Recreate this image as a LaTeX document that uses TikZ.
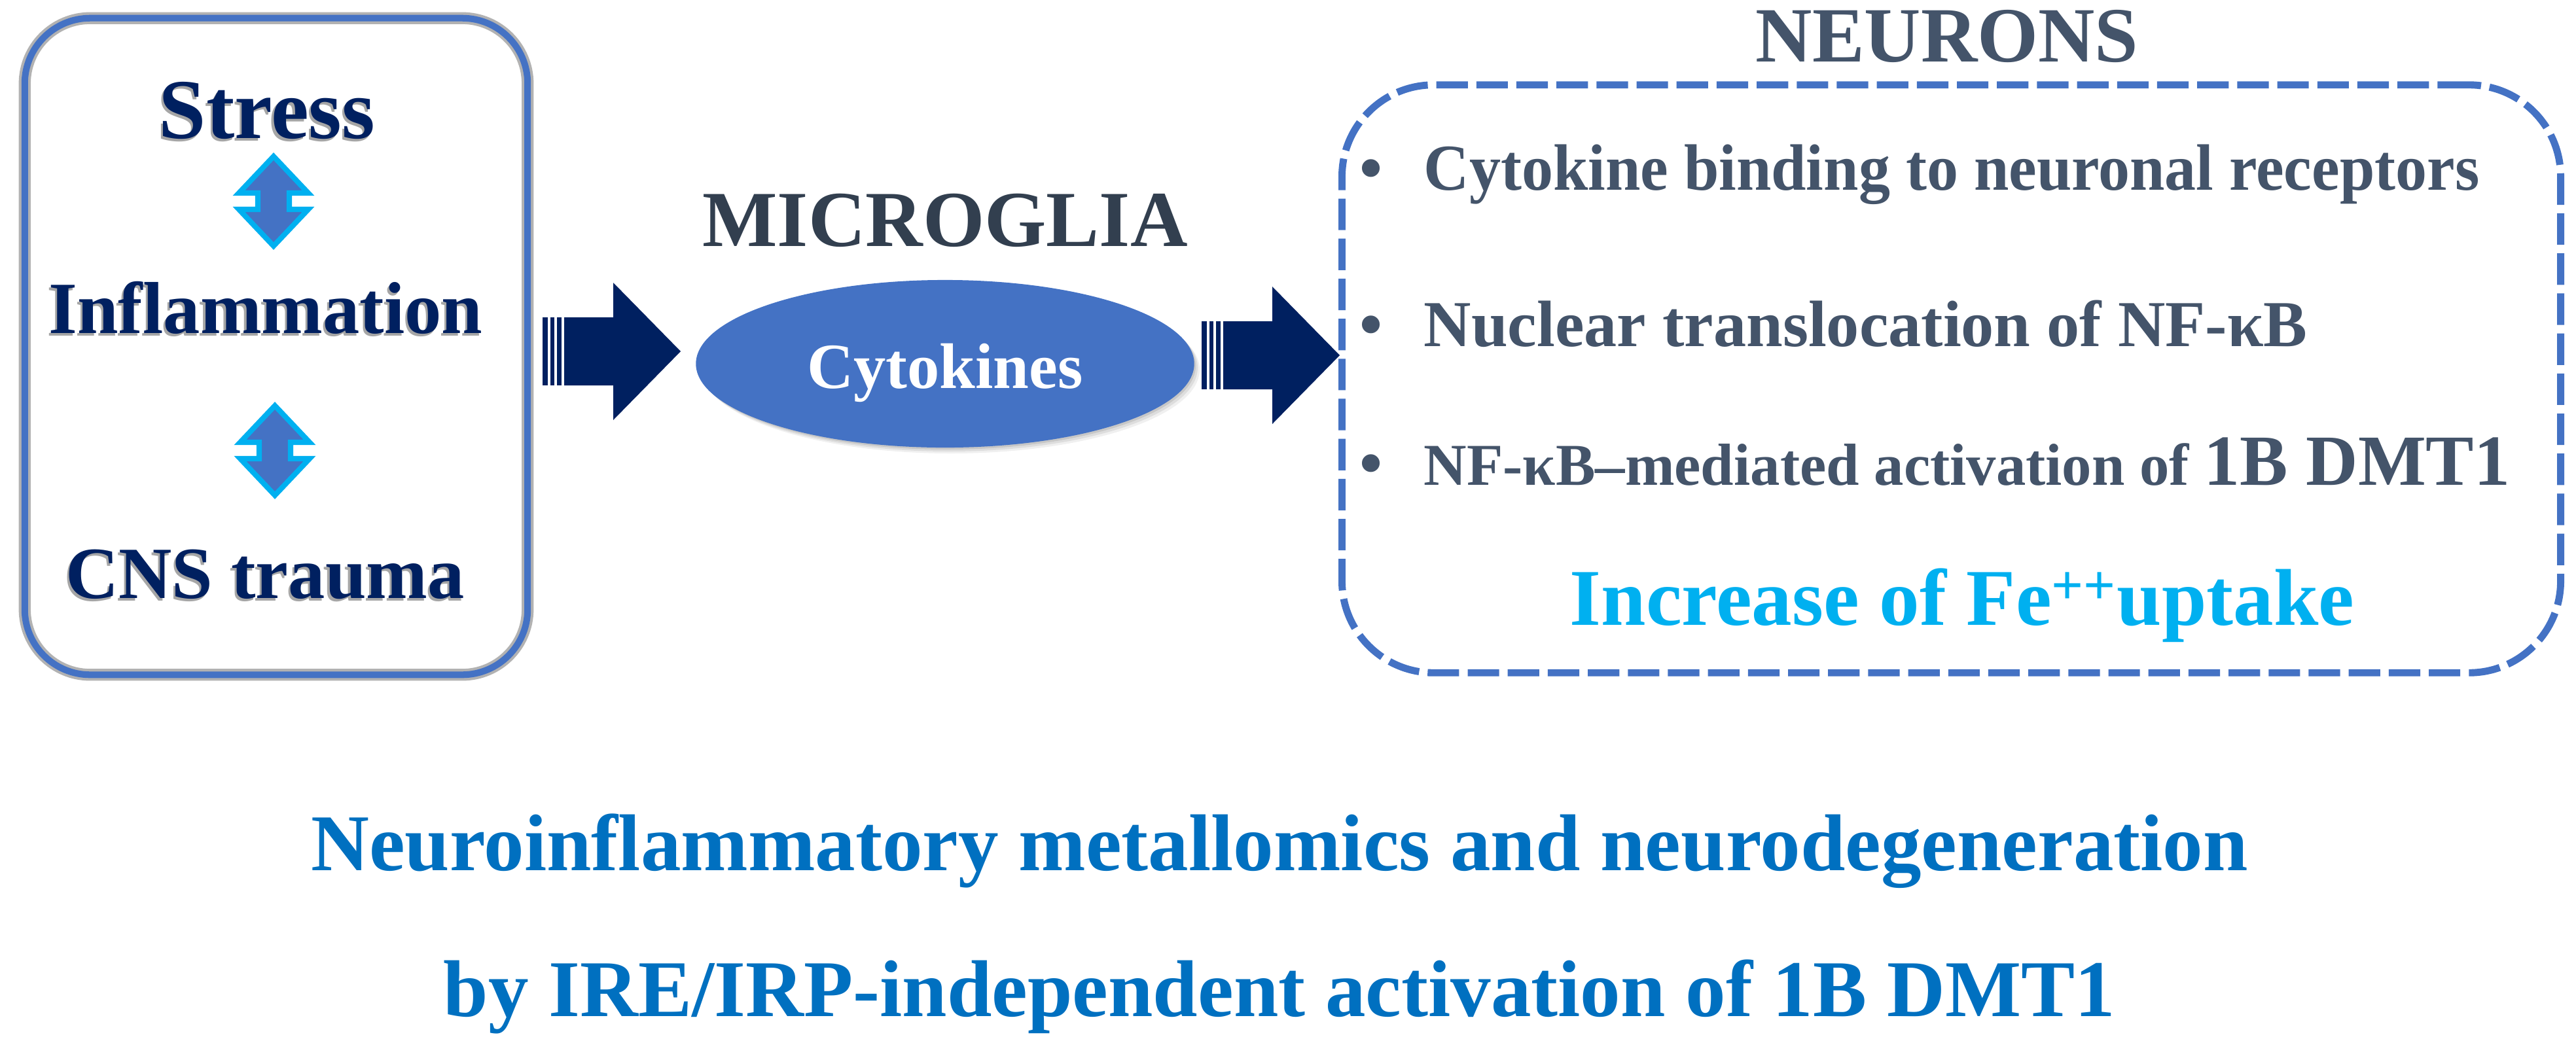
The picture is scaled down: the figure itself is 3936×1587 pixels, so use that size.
\documentclass[tikz,border=0pt]{standalone}
\usepackage{fontspec}
\setmainfont{Liberation Serif}
\usetikzlibrary{shapes.geometric}
\definecolor{navy}{HTML}{002060}
\definecolor{boxblue}{HTML}{4472C4}
\definecolor{skyc}{HTML}{00B0F0}
\definecolor{slateA}{HTML}{323F4F}
\definecolor{slateB}{HTML}{44546A}
\definecolor{titleblue}{HTML}{0070C0}
\newcommand{\fsz}[1]{\fontsize{#1}{#1}\selectfont\bfseries}
\tikzset{
  txt/.style={anchor=base, inner sep=0pt},
  shadowA/.style={anchor=base, inner sep=0pt, text=black, opacity=.35},
  bigarrow/.pic={
    \fill[navy] (0,-52) rectangle (8,52);
    \fill[navy] (12,-52) rectangle (18,52);
    \fill[navy] (22,-52) rectangle (29,52);
    \fill[navy] (33,-52) -- (108,-52) -- (108,-105) -- (211,0) -- (108,105) -- (108,52) -- (33,52) -- cycle;
  },
  dblarrow/.pic={
    \filldraw[fill=boxblue, draw=skyc, line width=2.3pt, line join=miter]
      (0,-68) -- (53,-12) -- (24,-12) -- (24,13) -- (53,13) -- (0,69)
      -- (-53,13) -- (-24,13) -- (-24,-12) -- (-53,-12) -- cycle;
  }
}
\begin{document}
\begin{tikzpicture}[x=0.01cm,y=-0.01cm]
\useasboundingbox (0,0) rectangle (3936,1587);

% ---------- left box ----------
\node[draw=boxblue, line width=2.85pt, rounded corners=1cm,
      minimum width=7.68cm, minimum height=10.03cm, inner sep=0pt,
      preaction={draw=black!30, line width=5.2pt}] (lbox) at (422,529.5) {};

\node[shadowA, font=\fsz{37}, xshift=-0.9pt, yshift=-1.2pt] at (408,211) {Stress};
\node[txt, font=\fsz{37}, text=navy] (stress) at (408,211) {Stress};
\coordinate (d1) at (418,307);
\pic at (d1) {dblarrow};
\node[shadowA, font=\fsz{32}, xshift=-0.9pt, yshift=-1.2pt] at (406,509) {Inflammation};
\node[txt, font=\fsz{32}, text=navy] (infl) at (406,509) {Inflammation};
\coordinate (d2) at (420,688);
\pic at (d2) {dblarrow};
\node[shadowA, font=\fsz{32}, xshift=-0.9pt, yshift=-1.2pt] at (405,914) {CNS trauma};
\node[txt, font=\fsz{32}, text=navy] (cns) at (405,914) {CNS trauma};

% ---------- microglia ----------
\node[txt, font=\fsz{34.5}, text=slateA] (micro) at (1444,376) {MICROGLIA};

\foreach \d/\o in {3/.10,6/.08,9/.06}{
  \fill[black, opacity=\o] (1444+\d,556+\d) ellipse [x radius=380, y radius=128];
}
\node[ellipse, fill=boxblue, minimum width=7.61cm, minimum height=2.56cm, inner sep=0pt] (cyto) at (1444,556) {};
\node[txt, font=\fsz{28}, text=white] (cytotxt) at (1444,593) {Cytokines};

% ---------- block arrows ----------
\coordinate (a1) at (829,537);
\pic at (a1) {bigarrow};
\coordinate (a2) at (1836,543);
\pic at (a2) {bigarrow};

% ---------- neurons ----------
\node[txt, font=\fsz{34}, text=slateB] (neur) at (2975,94) {NEURONS};

\node[draw=boxblue, dash pattern=on 13.7pt off 3.7pt, line width=3.1pt,
      rounded corners=1.4cm, minimum width=18.61cm, minimum height=8.98cm,
      inner sep=0pt] (rbox) at (2981.5,579) {};

\node[txt, font=\fsz{28.5}, text=slateB] (b1) at (2095,290) {•};
\node[txt, anchor=base west, font=\fsz{28.5}, text=slateB] (l1) at (2175,290) {\scalebox{0.958}[1]{Cytokine binding to neuronal receptors}};
\node[txt, font=\fsz{28.5}, text=slateB] (b2) at (2095,529) {•};
\node[txt, anchor=base west, font=\fsz{28.5}, text=slateB] (l2) at (2175,529) {Nuclear translocation of NF-κB};
\node[txt, font=\fsz{28.5}, text=slateB] (b3) at (2095,741) {•};
\node[txt, anchor=base west, font=\fsz{25.8}, text=slateB] (l3) at (2175,741) {NF-κB–mediated activation of {\fsz{31.3}1B DMT1}};
\node[txt, font=\fsz{35}, text=skyc] (fe) at (2998,955) {Increase of Fe\textsuperscript{++}uptake};

% ---------- bottom title ----------
\node[txt, font=\fsz{35}, text=titleblue] (t1) at (1955,1330) {Neuroinflammatory metallomics and neurodegeneration};
\node[txt, font=\fsz{35}, text=titleblue] (t2) at (1955,1553) {by IRE/IRP-independent activation of 1B DMT1};
\end{tikzpicture}
\end{document}
